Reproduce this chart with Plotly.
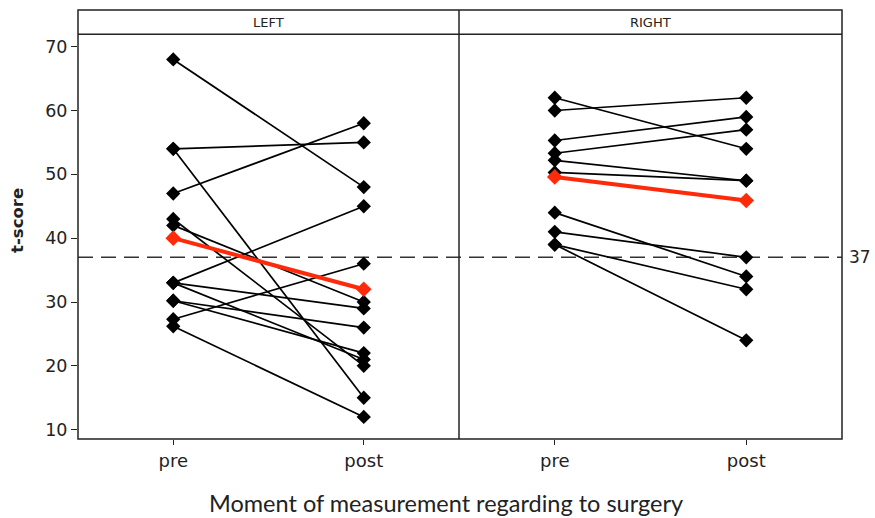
import plotly.graph_objects as go

# ---- data ----
moments = ["pre", "post"]
left_pre = [68, 54, 54, 47, 43, 42, 33, 33, 33, 30.2, 30.2, 27.3, 26.2]
left_post = [48, 55, 15, 58, 20, 30, 45, 29, 21, 26, 22, 36, 12]
left_mean = [40, 32]
right_pre = [62, 60, 55.3, 53.3, 52.2, 50.3, 44, 41, 39, 39]
right_post = [54, 62, 59, 57, 49, 49, 34, 37, 32, 24]
right_mean = [49.6, 45.9]
panels = ["LEFT", "RIGHT"]
ref_value = 37
y_ticks = [10, 20, 30, 40, 50, 60, 70]

RED = "#ff2a0a"
fig = go.Figure()

def add_panel(pre, post, mean, xa):
    for a, b in zip(pre, post):
        fig.add_trace(go.Scatter(
            x=moments, y=[a, b], xaxis=xa, yaxis="y", mode="lines+markers",
            line=dict(color="black", width=1.7),
            marker=dict(symbol="diamond", size=11, color="black"),
            showlegend=False, hoverinfo="skip"))
    fig.add_trace(go.Scatter(
        x=moments, y=mean, xaxis=xa, yaxis="y", mode="lines+markers",
        line=dict(color=RED, width=4),
        marker=dict(symbol="diamond", size=12, color=RED),
        showlegend=False, hoverinfo="skip"))

add_panel(left_pre, left_post, left_mean, "x")
add_panel(right_pre, right_post, right_mean, "x2")

strip_bot = 0.9434
xcommon = dict(type="category", range=[-0.5, 1.5], showgrid=False, zeroline=False,
               showline=False, ticks="outside", ticklen=5, tickwidth=1.2,
               tickcolor="#222", tickfont=dict(family="DejaVu Sans", size=18, color="#222"))
fig.update_layout(
    width=875, height=518,
    margin=dict(l=78, r=33, t=10, b=79),
    paper_bgcolor="white", plot_bgcolor="white",
    xaxis=dict(domain=[0, 0.4987], anchor="y", **xcommon),
    xaxis2=dict(domain=[0.4987, 1], anchor="y", **xcommon),
    yaxis=dict(domain=[0, strip_bot], range=[8.54, 71.94], tickvals=y_ticks,
               showgrid=False, zeroline=False, showline=False,
               ticks="outside", ticklen=6, tickwidth=1.2, tickcolor="#222",
               tickfont=dict(family="DejaVu Sans", size=17.5, color="#222")),
)

# reference dashed line
fig.add_shape(type="line", xref="paper", yref="y", x0=0, x1=1, y0=ref_value, y1=ref_value,
              line=dict(color="#333", width=1.5, dash="15px,8px"), layer="below")
# frame, strip, divider
fig.add_shape(type="rect", xref="paper", yref="paper", x0=0, x1=1, y0=0, y1=1,
              line=dict(color="#222", width=1.5))
fig.add_shape(type="line", xref="paper", yref="paper", x0=0, x1=1, y0=strip_bot, y1=strip_bot,
              line=dict(color="#222", width=1.5))
fig.add_shape(type="line", xref="paper", yref="paper", x0=0.4987, x1=0.4987, y0=0, y1=1,
              line=dict(color="#222", width=1.5))

for i, name in enumerate(panels):
    fig.add_annotation(text=name, xref="paper", yref="paper", x=0.2494 + 0.5 * i,
                       y=(1 + strip_bot) / 2, xanchor="center", yanchor="middle", showarrow=False,
                       font=dict(family="DejaVu Sans", size=13, color="#222"))

fig.add_annotation(text=str(ref_value), xref="paper", yref="y", x=1, y=ref_value,
                   xanchor="left", yanchor="middle", xshift=5, showarrow=False,
                   font=dict(family="DejaVu Sans", size=17, color="#222"))
fig.add_annotation(text="<b>t-score</b>", xref="paper", yref="paper", x=-0.0785, y=0.5085,
                   xanchor="center", yanchor="middle", textangle=-90, showarrow=False,
                   font=dict(family="DejaVu Sans", size=16.5, color="#222"))
fig.add_annotation(text="Moment of measurement regarding to surgery", xref="paper", yref="paper",
                   x=0.4817, y=-0.1484, xanchor="center", yanchor="middle", showarrow=False,
                   font=dict(family="Lato", size=23.5, color="#222"))

fig.write_html("out.html")
